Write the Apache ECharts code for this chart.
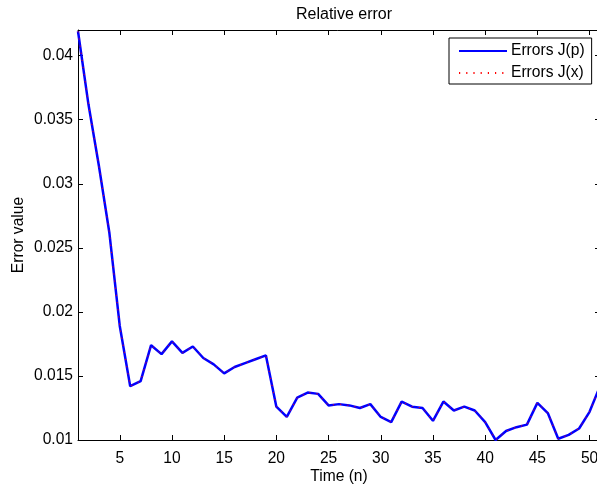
<!DOCTYPE html>
<html>
<head>
<meta charset="utf-8">
<title>Relative error</title>
<script src="https://cdn.jsdelivr.net/npm/echarts@6/dist/echarts.min.js"></script>
<style>
  html, body { margin: 0; padding: 0; background: #fff; }
  #chart { width: 597px; height: 485px; }
</style>
</head>
<body>
<div id="chart"></div>
<script>
// Time steps n
const timeN = [1, 2, 3, 4, 5, 6, 7, 8, 9, 10, 11, 12, 13, 14, 15, 16, 17, 18, 19, 20,
  21, 22, 23, 24, 25, 26, 27, 28, 29, 30, 31, 32, 33, 34, 35, 36, 37, 38, 39, 40,
  41, 42, 43, 44, 45, 46, 47, 48, 49, 50, 51];

// Relative error of J(p)
const errorsJp = [0.0419, 0.0362, 0.0314, 0.0262, 0.0189, 0.0142, 0.0146, 0.0174, 0.0167, 0.0177,
  0.0168, 0.0173, 0.0164, 0.0159, 0.0152, 0.0157, 0.0160, 0.0163, 0.0166, 0.0126,
  0.0118, 0.0133, 0.0137, 0.0136, 0.0127, 0.0128, 0.0127, 0.0125, 0.0128, 0.0118,
  0.0114, 0.0130, 0.0126, 0.0125, 0.0115, 0.0130, 0.0123, 0.0126, 0.0123, 0.0114,
  0.0100, 0.0107, 0.0110, 0.0112, 0.0129, 0.0121, 0.0101, 0.0104, 0.0109, 0.0122,
  0.0142];

// Relative error of J(x) (coincides with J(p))
const errorsJx = [0.0419, 0.0362, 0.0314, 0.0262, 0.0189, 0.0142, 0.0146, 0.0174, 0.0167, 0.0177,
  0.0168, 0.0173, 0.0164, 0.0159, 0.0152, 0.0157, 0.0160, 0.0163, 0.0166, 0.0126,
  0.0118, 0.0133, 0.0137, 0.0136, 0.0127, 0.0128, 0.0127, 0.0125, 0.0128, 0.0118,
  0.0114, 0.0130, 0.0126, 0.0125, 0.0115, 0.0130, 0.0123, 0.0126, 0.0123, 0.0114,
  0.0100, 0.0107, 0.0110, 0.0112, 0.0129, 0.0121, 0.0101, 0.0104, 0.0109, 0.0122,
  0.0142];

// Tick positions
const xTicks = [5, 10, 15, 20, 25, 30, 35, 40, 45, 50];
const yTicks = [0.01, 0.015, 0.02, 0.025, 0.03, 0.035, 0.04];

const FONT = "'Liberation Sans', Arial, Helvetica, sans-serif";
const FS = 15.6;

const pairs = (ys) => timeN.map((n, i) => [n, ys[i]]);

const tickStyle = { show: true, inside: true, length: 5, lineStyle: { color: '#000', width: 1 } };
const lineStyle = { show: true, lineStyle: { color: '#000', width: 1 } };

const chart = echarts.init(document.getElementById('chart'), null, { renderer: 'canvas' });

chart.setOption({
  animation: false,
  backgroundColor: '#fff',
  textStyle: { fontFamily: FONT },
  title: {
    text: 'Relative error',
    left: 339,
    textAlign: 'center',
    top: 2,
    textStyle: { fontFamily: FONT, fontSize: 16, fontWeight: 'normal', color: '#000' }
  },
  grid: { left: 78, top: 30, width: 522, height: 410, containLabel: false, outerBoundsMode: 'none' },
  legend: {
    orient: 'vertical',
    left: 449,
    top: 38,
    padding: [5, 7, 3, 9],
    itemWidth: 48,
    itemHeight: 14,
    itemGap: 6,
    backgroundColor: '#fff',
    borderColor: '#000',
    borderWidth: 1,
    borderRadius: 0,
    itemStyle: { opacity: 0, borderWidth: 0 },
    textStyle: { fontFamily: FONT, fontSize: FS, color: '#000', padding: [0, 0, 0, -1] },
    data: ['Errors J(p)', 'Errors J(x)']
  },
  xAxis: [
    {
      type: 'value', min: 1, max: 51,
      axisLine: lineStyle,
      axisTick: Object.assign({ customValues: xTicks }, tickStyle),
      axisLabel: { customValues: xTicks, color: '#000', fontSize: FS, fontFamily: FONT, margin: 11 },
      splitLine: { show: false },
      name: 'Time (n)', nameLocation: 'middle', nameGap: 29, nameMoveOverlap: false,
      nameTextStyle: { color: '#000', fontSize: FS, fontFamily: FONT }
    },
    {
      type: 'value', min: 1, max: 51, position: 'top',
      axisLine: lineStyle,
      axisTick: Object.assign({ customValues: xTicks }, tickStyle),
      axisLabel: { show: false },
      splitLine: { show: false }
    }
  ],
  yAxis: [
    {
      type: 'value', min: 0.01, max: 0.042,
      axisLine: lineStyle,
      axisTick: Object.assign({ customValues: yTicks }, tickStyle),
      axisLabel: {
        customValues: yTicks, color: '#000', fontSize: FS, fontFamily: FONT, margin: 5,
        formatter: (v) => String(parseFloat(v.toFixed(4)))
      },
      splitLine: { show: false },
      name: 'Error value', nameLocation: 'middle', nameGap: 51, nameRotate: 90, nameMoveOverlap: false,
      nameTextStyle: { color: '#000', fontSize: FS, fontFamily: FONT }
    },
    {
      type: 'value', min: 0.01, max: 0.042, position: 'right',
      axisLine: lineStyle,
      axisTick: Object.assign({ customValues: yTicks }, tickStyle),
      axisLabel: { show: false },
      splitLine: { show: false }
    }
  ],
  series: [
    {
      name: 'Errors J(p)',
      type: 'line',
      xAxisIndex: 0, yAxisIndex: 0,
      data: pairs(errorsJp),
      symbol: 'none',
      lineStyle: { color: '#0000ff', width: 2.5 },
      itemStyle: { color: '#0000ff' },
      z: 2
    },
    {
      name: 'Errors J(x)',
      type: 'line',
      xAxisIndex: 0, yAxisIndex: 0,
      data: pairs(errorsJx),
      symbol: 'none',
      lineStyle: { color: '#ff0000', width: 0.9, type: [1.2, 6] },
      itemStyle: { color: '#ff0000' },
      z: 3
    }
  ]
});
</script>
</body>
</html>
